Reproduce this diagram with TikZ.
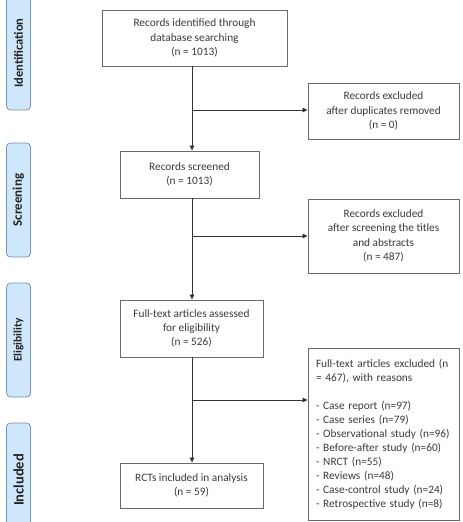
\documentclass[tikz,border=0pt]{standalone}
\usepackage{fontspec}
\setmainfont{Carlito}
\usetikzlibrary{arrows.meta}
\definecolor{boxc}{HTML}{6A6A6A}
\definecolor{txtc}{HTML}{3A3A3A}
\definecolor{arrc}{HTML}{333333}
\definecolor{barfill}{HTML}{CFE7FB}
\definecolor{barline}{HTML}{7D91A6}
\definecolor{bartxt}{HTML}{222222}
\begin{document}
\begin{tikzpicture}[x=1pt,y=-1pt,
  box/.style={draw=boxc, line width=0.9pt, fill=white, text=txtc, align=center,
    inner sep=0pt, font=\fontsize{11.3}{14.3}\selectfont},
  sidebar/.style={draw=barline, fill=barfill, rounded corners=4pt, line width=0.8pt,
    rotate=90, minimum width=114pt, minimum height=24pt, inner sep=0pt, text=bartxt},
  conn/.style={draw=arrc, line width=0.8pt},
  arr/.style={conn, -{Triangle[length=5pt,width=4.5pt]}}]
\useasboundingbox (0,0) rectangle (463,522);
\clip (0,0) rectangle (463,522);
\fill[white] (0,0) rectangle (463,522);

% side bars
\node[sidebar, font=\bfseries\fontsize{12.5}{14}\selectfont] (sId) at (18.5,53) {Identification};
\node[sidebar, font=\bfseries\fontsize{13}{14}\selectfont] (sSc) at (18.5,200) {Screening};
\node[sidebar, font=\bfseries\fontsize{11.5}{14}\selectfont] (sEl) at (18.5,340) {Eligibility};
\node[sidebar, font=\bfseries\fontsize{14.5}{16}\selectfont] (sIn) at (18.5,480) {Included};

% main boxes
\node[box, minimum width=185pt, minimum height=56pt] (b1) at (194.5,38)
  {Records identified through\\database searching\\(n = 1013)};
\node[box, minimum width=139pt, minimum height=47pt] (b2) at (189.5,174.5)
  {Records screened\\(n = 1013)};
\node[box, minimum width=143pt, minimum height=57pt] (b3) at (191.5,328.5)
  {Full-text articles assessed\\for eligibility\\(n = 526)};
\node[box, minimum width=143pt, minimum height=45pt] (b4) at (191.5,485.5)
  {RCTs included in analysis\\(n = 59)};

% exclusion boxes
\node[box, minimum width=151pt, minimum height=56pt] (e1) at (383.5,111)
  {Records excluded\\after duplicates removed\\(n = 0)};
\node[box, minimum width=151pt, minimum height=74pt] (e2) at (383.5,236)
  {Records excluded\\after screening the titles\\and abstracts\\(n = 487)};
\node[box, minimum width=151pt, minimum height=172pt, text width=135pt, align=left,
  font=\fontsize{11.3}{14}\selectfont] (e3) at (383.5,434)
  {\makebox[135pt][s]{Full-text articles excluded (n}\\
   = 467), with reasons\\[14pt]
   - Case report (n=97)\\
   - Case series (n=79)\\
   - Observational study (n=96)\\
   - Before-after study (n=60)\\
   - NRCT (n=55)\\
   - Reviews (n=48)\\
   - Case-control study (n=24)\\
   - Retrospective study (n=8)};

% connectors
\coordinate (ax) at (192,0);
\coordinate (j1) at (192,110);
\coordinate (j2) at (192,236);
\coordinate (j3) at (192,400);
\draw[arr] (b1.south -| ax) -- (b2.north -| ax);
\draw[arr] (b2.south -| ax) -- (b3.north -| ax);
\draw[arr] (b3.south -| ax) -- (b4.north -| ax);
\draw[arr] (j1) -- (j1 -| e1.west);
\draw[arr] (j2) -- (j2 -| e2.west);
\draw[arr] (j3) -- (j3 -| e3.west);
\end{tikzpicture}
\end{document}
